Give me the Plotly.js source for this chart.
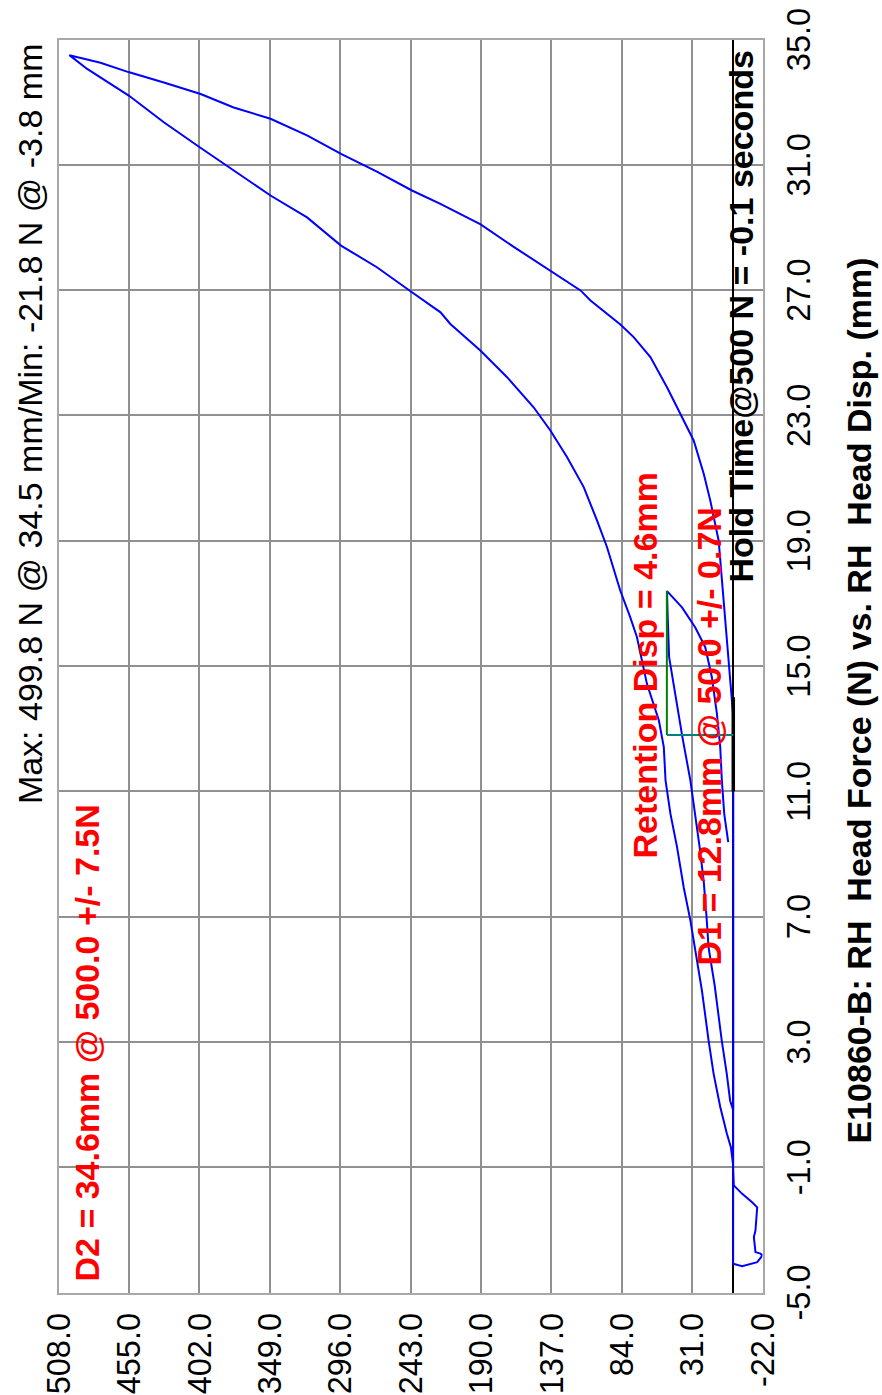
<!DOCTYPE html>
<html>
<head>
<meta charset="utf-8">
<script src="https://cdn.plot.ly/plotly-3.0.1.min.js"></script>
<style>
html,body{margin:0;padding:0;width:882px;height:1395px;overflow:hidden;background:#fff}
#wrap{position:absolute;left:-256.5px;top:256.5px;width:1395px;height:882px;transform:rotate(-90deg);transform-origin:50% 50%}
#chart{width:1395px;height:882px}
</style>
</head>
<body>
<div id="wrap"><div id="chart"></div></div>
<script>
// ---- tick values ----
const dispTicks  = [-5, -1, 3, 7, 11, 15, 19, 23, 27, 31, 35];
const forceTicks = [-22, 31, 84, 137, 190, 243, 296, 349, 402, 455, 508];

// ---- curve segments (displacement mm, force N) ----
const approachDisp  = [11.0, -4.08, -4.16, -4.03, -3.87, -3.8, -3.76, -3.71, -3.23, -3.02, -2.28, -2.12, -1.85, -1.58, -0.9];
const approachForce = [0, 0.1, -6.7, -18, -21, -21.8, -20.5, -16.7, -15.5, -16.7, -18, -14.2, -6.7, -0.4, 0.2];

const loadDisp  = [-0.36, 0.07, 0.92, 1.98, 3.05, 4.64, 4.96, 6.02, 6.88, 7.93, 9.21, 10.28, 11.35, 12.41, 13.26, 14.43, 15.92, 16.56, 17.41, 18.8, 19.65, 20.71, 21.67, 22.52, 23.26, 24.22, 25.07, 25.92, 26.29, 26.93, 27.73, 28.42, 29.32, 30.02, 30.81, 31.56, 32.36, 33.21, 34.06, 34.5];
const loadForce = [1.8, 4.8, 9.8, 14.8, 18.6, 23.6, 24.8, 28.6, 32.3, 37.3, 42.3, 47.3, 51, 52.3, 56, 65, 72.5, 77.6, 85.1, 95.1, 102.6, 112.6, 125.2, 137.7, 150.3, 170.3, 190.4, 213, 220.4, 241.9, 268.3, 295.3, 320.9, 348.4, 376.1, 401.7, 428.7, 455.1, 486.4, 499.8];

const unloadDisp  = [34.26, 33.96, 33.63, 33.26, 32.83, 32.47, 31.94, 31.35, 30.78, 30.18, 29.75, 29.1, 28.38, 27.63, 26.99, 26.67, 25.9, 25.5, 24.86, 23.9, 23.05, 22.62, 22.2, 21.13, 20.28, 19.0, 17.09, 14.96, 13.37];
const unloadForce = [476.4, 455.3, 428.7, 401, 376.1, 348.4, 320.9, 295.3, 268.3, 241.9, 220.5, 190.2, 165.3, 137.7, 115, 107.5, 85, 75, 62.4, 49.9, 39.9, 34.7, 29.8, 22.2, 17.3, 11, 7.3, 3.5, 0];

const reloadDisp  = [0.81, 1.13, 1.98, 3.05, 4.8, 6.02, 7.09, 8.15, 9.21, 10.28, 11.35, 12.73, 14.33, 15.28, 16.5, 17.39];
const reloadForce = [0, 2.4, 4.9, 8.7, 14, 18.6, 20.3, 22.3, 25.3, 28.6, 32.3, 38.3, 44.6, 48.3, 49.3, 49.9];

const releaseDisp  = [16.87, 16.23, 15.6, 14.64, 13.47, 12.4, 11.35, 10.28, 9.38];
const releaseForce = [38.6, 28.6, 21.1, 16.1, 12.3, 9.8, 8.6, 6.8, 3.8];

// hold marker on zero-force line
const holdDisp  = [11.0, 14.0];
const holdForce = [0, 0];

// retention markers
const d1Disp = 12.8, retentionEndDisp = 17.4, retentionForce = 50.0, baseForce = 0;

// ---- font selection ----
function measure(font, s){const c=document.createElement('canvas').getContext('2d'); c.font=font; return c.measureText(s).width;}
const probe = '508.0 Max: 499.8 N Head Force (mm)';
let FAMILY = '"Liberation Sans", Arial, sans-serif', SCALE = 1;
const wBase = measure('60px "Liberation Sans", sans-serif', probe);
for (const nm of ['Liberation Sans Narrow', 'Arial Narrow']) {
  const w1 = measure('60px "' + nm + '", monospace', probe), w2 = measure('60px monospace', probe);
  if (w1 !== w2) {
    const r = measure('60px "' + nm + '", sans-serif', probe) / wBase;
    if (r > 0.7 && r < 0.95) { FAMILY = '"' + nm + '", "Liberation Sans", Arial, sans-serif'; SCALE = 1 / r; }
    break;
  }
}
const TICK = 32.5 * SCALE, TXT = 34 * SCALE;

const curveDisp  = [].concat(approachDisp, loadDisp, unloadDisp, reloadDisp, releaseDisp);
const curveForce = [].concat(approachForce, loadForce, unloadForce, reloadForce, releaseForce);

const traces = [
  {x: curveDisp, y: curveForce, mode: 'lines', line: {color: '#0000ff', width: 2}, hoverinfo: 'skip'},
  {x: holdDisp, y: holdForce, mode: 'lines', line: {color: '#000000', width: 3.5}, hoverinfo: 'skip'},
  {x: [d1Disp, retentionEndDisp], y: [retentionForce, retentionForce], mode: 'lines', line: {color: '#008000', width: 2}, hoverinfo: 'skip'},
  {x: [d1Disp, d1Disp], y: [baseForce, retentionForce], mode: 'lines', line: {color: '#008080', width: 2}, hoverinfo: 'skip'}
];

const red = '#ff0000';
const layout = {
  width: 1395, height: 882, autosize: false,
  margin: {l: 103, r: 39, t: 58, b: 120, pad: 0},
  paper_bgcolor: '#ffffff', plot_bgcolor: '#ffffff',
  showlegend: false,
  font: {family: FAMILY, color: '#000000', size: TICK},
  title: {text: 'Max: 499.8 N @ 34.5 mm/Min: -21.8 N @ -3.8 mm', font: {family: FAMILY, size: TXT, color: '#000'},
          xref: 'paper', x: 0.9968, xanchor: 'right', yref: 'container', y: 1 - 29.5 / 882, yanchor: 'middle'},
  xaxis: {range: [-5, 35], tickvals: dispTicks, ticktext: dispTicks.map(v => v.toFixed(1)),
          showgrid: true, gridcolor: '#909090', gridwidth: 2, zeroline: false,
          showline: true, mirror: true, linecolor: '#a8a8a8', linewidth: 2,
          ticks: '', ticklabelstandoff: 6, tickfont: {family: FAMILY, size: TICK, color: '#000'}},
  yaxis: {range: [-22, 508], tickvals: forceTicks, ticktext: forceTicks.map(v => v.toFixed(1)),
          showgrid: true, gridcolor: '#909090', gridwidth: 2,
          zeroline: true, zerolinecolor: '#000000', zerolinewidth: 2,
          showline: true, mirror: true, linecolor: '#a8a8a8', linewidth: 2,
          ticks: '', ticklabelstandoff: 12, tickfont: {family: FAMILY, size: TICK, color: '#000'}},
  annotations: [
    {text: '<b>D2 = 34.6mm @ 500.0 +/- 7.5N</b>', xref: 'paper', yref: 'paper', x: 0.0072, y: 0.9602, xanchor: 'left', yanchor: 'middle', showarrow: false, font: {family: FAMILY, size: TXT, color: red}},
    {text: '<b>Retention Disp = 4.6mm</b>', xref: 'paper', yref: 'paper', x: 0.3448, y: 0.1683, xanchor: 'left', yanchor: 'middle', showarrow: false, font: {family: FAMILY, size: TXT, color: red}},
    {text: '<b>D1 = 12.8mm @ 50.0 +/- 0.7N</b>', xref: 'paper', yref: 'paper', x: 0.2594, y: 0.0760, xanchor: 'left', yanchor: 'middle', showarrow: false, font: {family: FAMILY, size: TXT, color: red}},
    {text: '<b>Hold Time@500 N = -0.1 seconds</b>', xref: 'paper', yref: 'paper', x: 0.9928, y: 0.0312, xanchor: 'right', yanchor: 'middle', showarrow: false, font: {family: FAMILY, size: TXT, color: '#000'}},
    {text: '<b>E10860-B: RH  Head Force (N) vs. RH  Head Disp. (mm)</b>', xref: 'paper', yref: 'paper', x: 0.4725, y: -0.1357, xanchor: 'center', yanchor: 'middle', showarrow: false, font: {family: FAMILY, size: TXT, color: '#000'}}
  ]
};

Plotly.newPlot('chart', traces, layout, {displayModeBar: false, staticPlot: true});
</script>
</body>
</html>
